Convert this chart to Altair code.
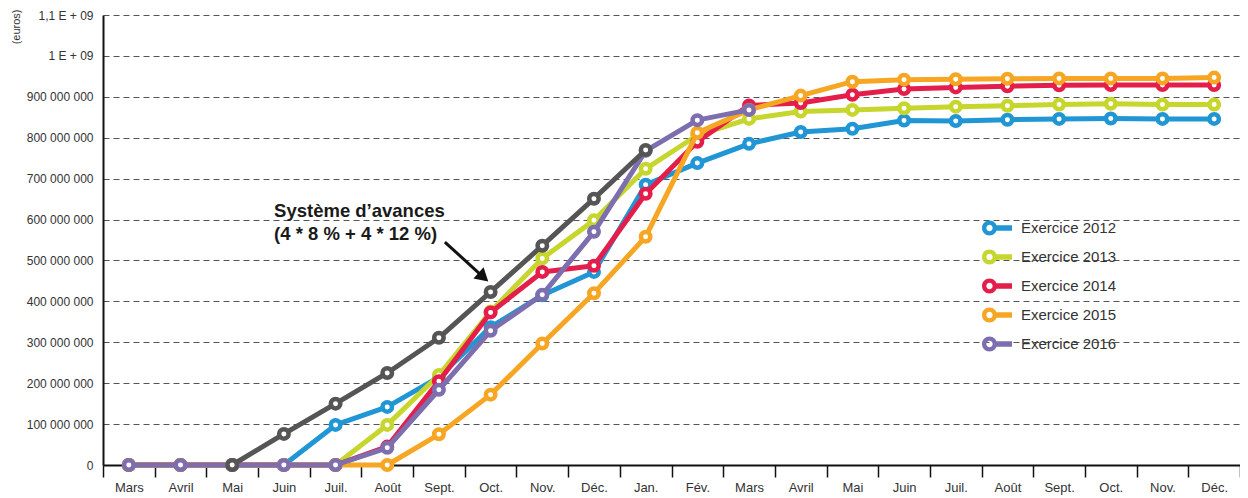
import json
import altair as alt
import pandas as pd

# ---------------- data ----------------
months = ["Mars", "Avril", "Mai", "Juin", "Juil.", "Août", "Sept.", "Oct.", "Nov.", "Déc.",
          "Jan.", "Fév.", "Mars", "Avril", "Mai", "Juin", "Juil.", "Août", "Sept.", "Oct.",
          "Nov.", "Déc."]

series_names = ["Exercice 2012", "Exercice 2013", "Exercice 2014", "Exercice 2015",
                "Exercice 2016", "Système d’avances"]

ex2012 = [0, 0, 0, 0, 98e6, 142e6, 215e6, 337e6, 415e6, 472e6, 685e6, 738e6, 785e6, 814e6,
          822e6, 842e6, 841e6, 844e6, 846e6, 847e6, 846e6, 846e6]
ex2013 = [0, 0, 0, 0, 0, 98e6, 220e6, 375e6, 505e6, 598e6, 724e6, 806e6, 846e6, 864e6,
          868e6, 872e6, 876e6, 878e6, 881e6, 883e6, 881e6, 881e6]
ex2014 = [0, 0, 0, 0, 0, 45e6, 205e6, 373e6, 472e6, 487e6, 663e6, 790e6, 879e6, 885e6,
          905e6, 919e6, 923e6, 926e6, 928e6, 929e6, 929e6, 929e6]
ex2015 = [0, 0, 0, 0, 0, 0, 75e6, 172e6, 297e6, 420e6, 558e6, 812e6, 868e6, 903e6,
          937e6, 942e6, 943e6, 944e6, 945e6, 945e6, 945e6, 947e6]
ex2016 = [0, 0, 0, 0, 0, 42e6, 184e6, 328e6, 416e6, 570e6, 768e6, 843e6, 868e6,
          None, None, None, None, None, None, None, None, None]
avances = [None, None, 0, 76e6, 150e6, 225e6, 311e6, 423e6, 536e6, 651e6, 770e6,
           None, None, None, None, None, None, None, None, None, None, None]

series_values = [ex2012, ex2013, ex2014, ex2015, ex2016, avances]
series_colors = ["#2196d4", "#c6d62c", "#e41e4b", "#f6a623", "#7d6eaf", "#555555"]

y_tick_values = [i * 1e8 for i in range(12)]
y_tick_labels = ["0", "100 000 000", "200 000 000", "300 000 000", "400 000 000",
                 "500 000 000", "600 000 000", "700 000 000", "800 000 000",
                 "900 000 000", "1 E + 09", "1,1 E + 09"]

annot_lines = ["Système d’avances", "(4 * 8 % + 4 * 12 %)"]

# ---------------- layout constants ----------------
W, H = 1137, 450
FONT = "Liberation Sans"
annot_pos_x = [2.81, 2.81]
annot_pos_y = [621e6, 565e6]
arrow_start = (6.115, 545e6)
arrow_end = (6.80, 466e6)
arrow_head = (6.86, 459e6)

rows = []
for name, vals in zip(series_names, series_values):
    for i, v in enumerate(vals):
        if v is not None:
            rows.append({"series": name, "idx": i, "value": v})
df = pd.DataFrame(rows)

months_js = json.dumps(months, ensure_ascii=False)
ylab_js = json.dumps(y_tick_labels, ensure_ascii=False)

color_scale = alt.Scale(domain=series_names, range=series_colors)

x_axis = alt.Axis(
    values=[i - 0.5 for i in range(len(months) + 1)],
    labelExpr=f"datum.value < {len(months) - 1} ? {months_js}[round(datum.value + 0.5)] : ''",
    labelOffset=W / len(months) / 2,
    labelFlush=False, labelOverlap=False, grid=False,
    domainColor="#111111", domainWidth=2,
    tickColor="#111111", tickWidth=1.5, tickSize=12,
    labelPadding=4, labelFontSize=13, labelColor="#333333", labelFont=FONT,
    title=None,
)
y_axis = alt.Axis(
    values=y_tick_values,
    labelExpr=f"{ylab_js}[round(datum.value / 1e8)]",
    ticks=False, grid=True, gridDash=[6, 4], gridColor="#555555", gridWidth=1,
    domainColor="#111111", domainWidth=2,
    labelPadding=10, labelFontSize=12, labelColor="#333333", labelFont=FONT,
    title="(euros)", titleFont=FONT, titleFontSize=11, titleFontWeight="normal",
    titleColor="#333333", titleAngle=270, titleAlign="right", titleBaseline="middle",
    titleX=-87, titleY=-6,
)
x_scale = alt.Scale(domain=[-0.5, len(months) - 0.5], nice=False, zero=False)
y_scale = alt.Scale(domain=[0, 1.1e9], nice=False)

X = alt.X("idx:Q", scale=x_scale, axis=x_axis)
Y = alt.Y("value:Q", scale=y_scale, axis=y_axis)

layers = []
for name in series_names:
    layers.append(
        alt.Chart(df).transform_filter(alt.datum.series == name)
        .mark_line(strokeWidth=5, strokeJoin="round",
                   point=alt.OverlayMarkDef(filled=False, fill="white", size=90, strokeWidth=4.5))
        .encode(x=X, y=Y, color=alt.Color("series:N", scale=color_scale, legend=None))
    )

LEGEND_PATH = ("M -1 0 A 0.5 0.5 0 1 1 0 0 A 0.5 0.5 0 1 1 -1 0 Z "
               "M -0.71 0 A 0.21 0.21 0 1 0 -0.29 0 A 0.21 0.21 0 1 0 -0.71 0 Z "
               "M -0.1 -0.18 L 1 -0.18 L 1 0.18 L -0.1 0.18 Z")

legend_layer = (
    alt.Chart(df).transform_filter("false")
    .mark_point(filled=True, shape=LEGEND_PATH, size=784, strokeWidth=0, opacity=1)
    .encode(x=X, y=Y, fill=alt.Fill(
        "series:N", scale=alt.Scale(domain=series_names[:5], range=series_colors[:5]),
        legend=alt.Legend(
            orient="none", legendX=879, legendY=198,
            title=None, symbolType=LEGEND_PATH, symbolSize=900, symbolStrokeWidth=0,
            symbolOpacity=1,
            labelFont=FONT, labelFontSize=15, labelColor="#333333", labelOffset=9,
            rowPadding=6, padding=0,
        )))
)

annot_df = pd.DataFrame({"idx": annot_pos_x, "value": annot_pos_y, "text": annot_lines})
text_layer = alt.Chart(annot_df).mark_text(
    align="left", baseline="middle", font=FONT, fontSize=18.5, fontWeight="bold", color="#1a1a1a"
).encode(x=X, y=Y, text="text:N")

arrow_df = pd.DataFrame({"idx": [arrow_start[0]], "value": [arrow_start[1]],
                         "idx2": [arrow_end[0]], "value2": [arrow_end[1]]})
arrow_line = alt.Chart(arrow_df).mark_rule(color="#111111", strokeWidth=3).encode(
    x=X, y=Y, x2="idx2:Q", y2="value2:Q")
head_df = pd.DataFrame({"idx": [arrow_head[0]], "value": [arrow_head[1]]})
arrow_headl = alt.Chart(head_df).mark_point(
    shape="triangle-up", filled=True, size=230, angle=132, color="#111111", opacity=1
).encode(x=X, y=Y)

chart = alt.layer(*layers, legend_layer, text_layer, arrow_line, arrow_headl).properties(
    width=W, height=H,
    padding={"left": 95, "top": 7, "right": 0, "bottom": 32},
    autosize=alt.AutoSizeParams(type="none"),
    background="white",
).configure_view(stroke=None)

chart.save("out.html", embed_options={"renderer": "svg", "actions": False})
